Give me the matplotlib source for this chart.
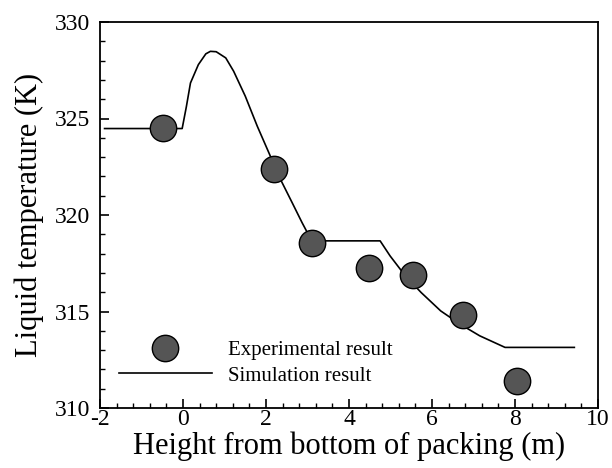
import matplotlib
matplotlib.use("Agg")
import matplotlib.pyplot as plt
from matplotlib.ticker import MultipleLocator

# experimental points
exp_height = [-0.47, 2.19, 3.10, 4.48, 5.55, 6.75, 8.05]
exp_temp = [324.5, 322.4, 318.55, 317.25, 316.9, 314.8, 311.4]

# simulation curve
sim_height = [-1.89, -0.02, 0.08, 0.18, 0.37, 0.55, 0.66, 0.80, 1.03, 1.22, 1.50,
              1.79, 2.07, 2.35, 2.63, 2.87, 3.06, 3.08, 4.75, 4.99, 5.36, 5.74,
              6.21, 6.68, 7.15, 7.76, 9.43]
sim_temp = [324.48, 324.48, 325.6, 326.84, 327.79, 328.35, 328.48, 328.46, 328.14,
            327.45, 326.16, 324.60, 323.22, 321.84, 320.64, 319.60, 318.83, 318.66,
            318.66, 317.88, 316.84, 315.98, 315.03, 314.34, 313.74, 313.14, 313.14]

plt.rcParams["font.family"] = ["Liberation Serif", "DejaVu Serif"]
plt.rcParams["axes.unicode_minus"] = False

fig = plt.figure(figsize=(6.12, 4.68), dpi=100)
ax = fig.add_axes([100 / 612, 60 / 468, 498 / 612, 386 / 468])

ax.plot(sim_height, sim_temp, color="black", lw=1.2, label="Simulation result")
ax.plot(exp_height, exp_temp, linestyle="none", marker="o", markersize=19,
        markerfacecolor="#555555", markeredgecolor="black", markeredgewidth=1.0,
        label="Experimental result")

ax.set_xlim(-2, 10)
ax.set_ylim(310, 330)
ax.xaxis.set_major_locator(MultipleLocator(2))
ax.xaxis.set_minor_locator(MultipleLocator(0.4))
ax.yaxis.set_major_locator(MultipleLocator(5))
ax.yaxis.set_minor_locator(MultipleLocator(1))
ax.tick_params(which="both", direction="in", top=False, right=False, labelsize=17)
ax.tick_params(which="major", length=6.5, width=1.2)
ax.tick_params(which="minor", length=3.6, width=1.0)
ax.tick_params(axis="x", pad=1)
ax.tick_params(axis="y", pad=7)
for s in ax.spines.values():
    s.set_linewidth(1.3)

ax.set_xlabel("Height from bottom of packing (m)", fontsize=22, labelpad=1)
ax.set_ylabel("Liquid temperature (K)", fontsize=22, labelpad=8)

handles, labels = ax.get_legend_handles_labels()
ax.legend(handles[::-1], labels[::-1], loc="lower left", bbox_to_anchor=(0.008, 0.02),
          frameon=False, fontsize=15, handlelength=4.5, handletextpad=0.75,
          labelspacing=0.3, borderpad=0.2)

fig.savefig("out.png", dpi=100)
